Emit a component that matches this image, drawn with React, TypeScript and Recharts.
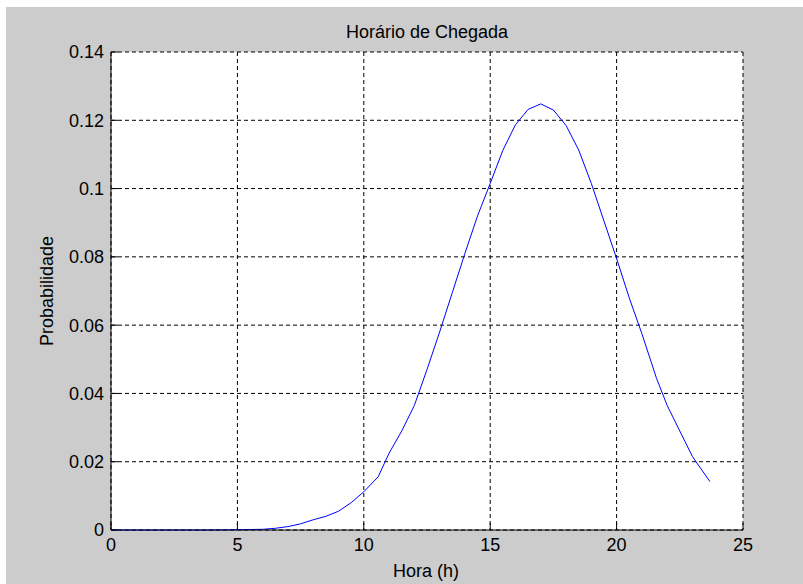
import { LineChart, Line, XAxis, YAxis, CartesianGrid } from 'recharts'

const horas = [
  0, 1, 2, 3, 4, 5, 6, 6.5, 7, 7.5, 8, 8.5, 9, 9.5, 10, 10.57, 11, 11.5, 12, 12.5, 13, 13.5, 14,
  14.5, 15, 15.5, 16, 16.5, 17, 17.5, 18, 18.5, 19, 19.5, 20, 20.5, 21, 21.58, 22, 22.5, 23, 23.69,
]
const probabilidade = [
  0, 0, 0, 0, 0, 0.0001, 0.0002, 0.0005, 0.001, 0.0018, 0.003, 0.004, 0.0055, 0.008, 0.0112,
  0.0156, 0.0225, 0.029, 0.0365, 0.047, 0.058, 0.0695, 0.081, 0.092, 0.1015, 0.1112, 0.1187,
  0.1232, 0.1248, 0.123, 0.1185, 0.1113, 0.1015, 0.0905, 0.0795, 0.068, 0.0575, 0.0444, 0.0365,
  0.029, 0.0215, 0.0142,
]
const xTicks = [0, 5, 10, 15, 20, 25]
const yTicks = [0, 0.02, 0.04, 0.06, 0.08, 0.1, 0.12, 0.14]

const data = horas.map((h, i) => ({ hora: h, p: probabilidade[i] }))

const FONT = '"Liberation Sans", Arial, sans-serif'
const tickStyle = { fill: '#000', fontSize: 18, fontFamily: FONT }

export default function App() {
  return (
    <div style={{ position: 'absolute', left: 0, top: 0, width: 803, height: 584, background: '#fff' }}>
      <div style={{ position: 'absolute', left: 6, top: 7, right: 0, bottom: 0, background: '#cccccc' }} />
      <div style={{ position: 'absolute', left: 0, top: 0 }}>
        <LineChart
          width={803}
          height={584}
          data={data}
          margin={{ top: 52, right: 60, bottom: 24, left: 0 }}
        >
          <CartesianGrid
            fill="#fff"
            stroke="#000"
            strokeDasharray="4 3"
            horizontalValues={yTicks}
            verticalValues={xTicks}
          />
          <XAxis
            dataKey="hora"
            type="number"
            domain={[0, 25]}
            ticks={xTicks}
            height={30}
            tickSize={-7}
            tickMargin={15}
            axisLine={{ stroke: '#000' }}
            tickLine={{ stroke: '#000' }}
            tick={tickStyle}
          />
          <XAxis
            xAxisId="top"
            orientation="top"
            type="number"
            domain={[0, 25]}
            ticks={xTicks}
            height={0}
            tickSize={-7}
            tick={false}
            axisLine={{ stroke: '#000' }}
            tickLine={{ stroke: '#000' }}
          />
          <YAxis
            type="number"
            domain={[0, 0.14]}
            ticks={yTicks}
            width={111}
            tickSize={-7}
            tickMargin={14}
            axisLine={{ stroke: '#000' }}
            tickLine={{ stroke: '#000' }}
            tick={tickStyle}
            tickFormatter={(v: number) => String(v)}
          />
          <YAxis
            yAxisId="right"
            orientation="right"
            type="number"
            domain={[0, 0.14]}
            ticks={yTicks}
            width={0}
            tickSize={-7}
            tick={false}
            axisLine={{ stroke: '#000' }}
            tickLine={{ stroke: '#000' }}
          />
          <Line
            type="linear"
            dataKey="p"
            stroke="#0000ff"
            strokeWidth={1}
            dot={false}
            isAnimationActive={false}
          />
        </LineChart>
      </div>
      <svg
        width={803}
        height={584}
        style={{ position: 'absolute', left: 0, top: 0, pointerEvents: 'none' }}
        fontFamily={FONT}
        fontSize={18}
        fill="#000"
      >
        <text x={427} y={38} textAnchor="middle">Horário de Chegada</text>
        <text x={426} y={577} textAnchor="middle">Hora (h)</text>
        <text x={53} y={291} textAnchor="middle" transform="rotate(-90 53 291)">Probabilidade</text>
      </svg>
    </div>
  )
}
